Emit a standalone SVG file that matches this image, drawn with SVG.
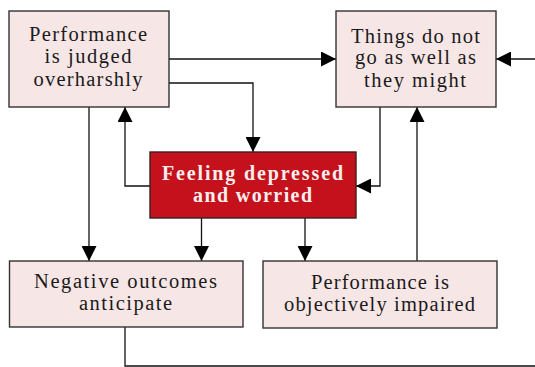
<svg xmlns="http://www.w3.org/2000/svg" width="535" height="367" viewBox="0 0 535 367">
<defs>
<marker id="arr" markerUnits="userSpaceOnUse" markerWidth="15" markerHeight="15" refX="15" refY="7.5" orient="auto">
<path d="M0,0 L15,7.5 L0,15 z" fill="#000"/>
</marker>
<style>
.box{fill:#f7e6e6;stroke:#333;stroke-width:1.4}
.hot{fill:#c4111b;stroke:#3a2020;stroke-width:1.4}
.t{font-family:"Liberation Serif","Times New Roman",serif;font-size:20.5px;fill:#1a1a1a;text-anchor:middle}
.tw{font-family:"Liberation Serif","Times New Roman",serif;font-size:20px;font-weight:bold;fill:#fbeeee;text-anchor:middle}
.c{fill:none;stroke:#111;stroke-width:1.3}
.a{marker-end:url(#arr)}
</style>
</defs>
<rect width="535" height="367" fill="#fff"/>
<g id="connectors">
<path class="c a" d="M169,59 H336"/>
<path class="c a" d="M535,59 H496"/>
<path class="c a" d="M169,83 H253 V152"/>
<path class="c a" d="M89,107 V261"/>
<path class="c a" d="M150,186 H125 V107"/>
<path class="c a" d="M380,107 V186 H356"/>
<path class="c a" d="M417,261 V107"/>
<path class="c a" d="M201.5,218 V261"/>
<path class="c a" d="M305,218 V261"/>
<path class="c" d="M125,327 V366 H535"/>
</g>
<g id="judged">
<rect class="box" x="9" y="11" width="160" height="96"/>
<text class="t" x="88" y="41" textLength="118" lengthAdjust="spacing">Performance</text>
<text class="t" x="88" y="63" textLength="87" lengthAdjust="spacing">is judged</text>
<text class="t" x="88" y="86" textLength="109" lengthAdjust="spacing">overharshly</text>
</g>
<g id="things">
<rect class="box" x="336" y="11" width="160" height="96"/>
<text class="t" x="415.5" y="43" textLength="129" lengthAdjust="spacing">Things do not</text>
<text class="t" x="415.5" y="64" textLength="121" lengthAdjust="spacing">go as well as</text>
<text class="t" x="415" y="87" textLength="102" lengthAdjust="spacing">they might</text>
</g>
<g id="feeling">
<rect class="hot" x="150" y="152" width="206" height="66"/>
<text class="tw" x="252.5" y="180" textLength="181" lengthAdjust="spacing">Feeling depressed</text>
<text class="tw" x="252.5" y="202" textLength="119" lengthAdjust="spacing">and worried</text>
</g>
<g id="negative">
<rect class="box" x="9.5" y="261" width="233.5" height="66"/>
<text class="t" x="125.5" y="288" textLength="183" lengthAdjust="spacing">Negative outcomes</text>
<text class="t" x="125.5" y="310" textLength="93" lengthAdjust="spacing">anticipate</text>
</g>
<g id="impaired">
<rect class="box" x="263" y="261" width="234" height="67"/>
<text class="t" x="380" y="289" textLength="138" lengthAdjust="spacing">Performance is</text>
<text class="t" x="379.5" y="311" textLength="191" lengthAdjust="spacing">objectively impaired</text>
</g>
</svg>
